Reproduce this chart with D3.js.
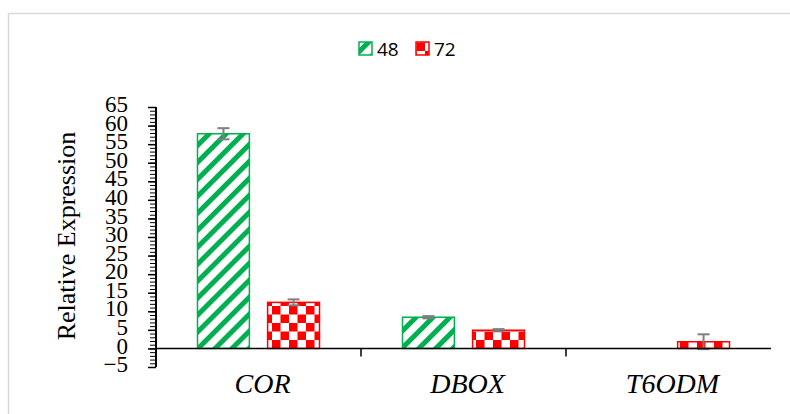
<!DOCTYPE html>
<html>
<head>
<meta charset="utf-8">
<script src="https://cdn.jsdelivr.net/npm/d3@7"></script>
<style>
  body { margin: 0; background: #fff; }
  svg { display: block; }
</style>
</head>
<body>
<div id="chart"></div>
<script>
// data
const categories = ['COR', 'DBOX', 'T6ODM'];
const seriesNames = ['48', '72'];
const values48 = [57.8, 8.4, 0];
const values72 = [12.4, 4.9, 1.8];
const errors48 = [1.5, 0.3, 0];
const errors72 = [0.8, 0.3, 2.0];
const yTicks = [-5, 0, 5, 10, 15, 20, 25, 30, 35, 40, 45, 50, 55, 60, 65];

const width = 790, height = 414;
const green = '#00B050', red = '#FF0000';

const svg = d3.select('#chart').append('svg')
    .attr('width', width).attr('height', height);

// patterns
const defs = svg.append('defs');
const stripes = defs.append('pattern')
    .attr('id', 'stripes').attr('patternUnits', 'userSpaceOnUse')
    .attr('width', 12).attr('height', 12)
    .attr('patternTransform', 'rotate(-45)');
stripes.append('rect').attr('width', 12).attr('height', 12).attr('fill', '#fff');
stripes.append('rect').attr('width', 12).attr('height', 5).attr('fill', green);

const checks = defs.append('pattern')
    .attr('id', 'checks').attr('patternUnits', 'userSpaceOnUse')
    .attr('width', 17).attr('height', 17).attr('x', 0).attr('y', 0);
checks.append('rect').attr('width', 17).attr('height', 17).attr('fill', '#fff');
checks.append('rect').attr('width', 8.5).attr('height', 8.5).attr('fill', red);
checks.append('rect').attr('x', 8.5).attr('y', 8.5).attr('width', 8.5).attr('height', 8.5).attr('fill', red);

// frame
svg.append('path')
    .attr('d', `M8.5,${height + 2}V13.5H${width + 2}`)
    .attr('fill', 'none').attr('stroke', '#d9d9d9').attr('stroke-width', 1.5);

// scales
const x0 = d3.scaleBand().domain(categories).range([156, 771]);
const x1 = d3.scaleBand().domain(seriesNames).range([41.5, 163.5]).paddingInner(0.26);
const y = d3.scaleLinear().domain([-5, 65]).range([367, 107]);

const series = [
  { name: '48', values: values48, errors: errors48, fill: 'url(#stripes)', color: green },
  { name: '72', values: values72, errors: errors72, fill: 'url(#checks)', color: red }
];

// bars
const gBars = svg.append('g');
series.forEach(s => {
  const g = gBars.append('g');
  categories.forEach((c, i) => {
    const v = s.values[i];
    if (v <= 0) return;
    const bx = x0(c) + x1(s.name);
    g.append('rect')
      .attr('x', bx).attr('y', y(v))
      .attr('width', x1.bandwidth()).attr('height', y(0) - y(v))
      .attr('fill', s.fill)
      .attr('stroke', s.color).attr('stroke-width', 1.5);
  });
});

// error bars
series.forEach(s => {
  categories.forEach((c, i) => {
    const v = s.values[i], e = s.errors[i];
    if (v <= 0) return;
    const cx = x0(c) + x1(s.name) + x1.bandwidth() / 2;
    const g = svg.append('g').attr('stroke', '#7f7f7f').attr('stroke-width', 2);
    g.append('line').attr('x1', cx).attr('x2', cx).attr('y1', y(v + e)).attr('y2', y(v - e));
    g.append('line').attr('x1', cx - 6).attr('x2', cx + 6).attr('y1', y(v + e)).attr('y2', y(v + e));
    g.append('line').attr('x1', cx - 6).attr('x2', cx + 6).attr('y1', y(v - e)).attr('y2', y(v - e));
  });
});

// x axis at zero
const xAxisG = svg.append('g').attr('transform', `translate(0,${y(0)})`);
xAxisG.append('line').attr('x1', 156).attr('x2', 771)
    .attr('stroke', '#000').attr('stroke-width', 1.5);
categories.slice(1).forEach(c => {
  xAxisG.append('line').attr('x1', x0(c)).attr('x2', x0(c))
      .attr('y1', 0).attr('y2', 8).attr('stroke', '#000').attr('stroke-width', 1.5);
});
svg.append('g').selectAll('text')
  .data(categories).join('text')
    .attr('x', d => x0(d) + x0.bandwidth() / 2 + 4)
    .attr('y', 393)
    .attr('text-anchor', 'middle')
    .attr('font-family', '"Liberation Serif", "DejaVu Serif", serif')
    .attr('font-style', 'italic')
    .attr('font-size', 28)
    .text(d => d);

// y axis: minor ticks
const yAxisG = svg.append('g').attr('transform', 'translate(156,0)');
yAxisG.call(d3.axisLeft(y).ticks(70).tickSize(6).tickFormat(''))
  .call(g => g.select('.domain').remove())
  .selectAll('line').attr('stroke', '#000').attr('stroke-width', 1);
// major ticks with labels
const yMajor = svg.append('g').attr('transform', 'translate(156,0)');
yMajor.call(d3.axisLeft(y).tickValues(yTicks).tickSize(8).tickPadding(20)
    .tickFormat(d => d < 0 ? '\u2212' + Math.abs(d) : d))
  .call(g => g.select('.domain').attr('stroke', '#000').attr('stroke-width', 2))
  .call(g => g.selectAll('line').attr('stroke', '#000').attr('stroke-width', 1.5))
  .call(g => g.selectAll('text')
      .attr('font-family', '"Liberation Serif", "DejaVu Serif", serif')
      .attr('font-size', 23).attr('fill', '#000').attr('dy', '0.2em'));
yMajor.select('.domain').attr('d', `M0,${y(-5)}V${y(65)}`);

// y title
svg.append('text')
    .attr('transform', `translate(75,${236}) rotate(-90)`)
    .attr('text-anchor', 'middle')
    .attr('font-family', '"Liberation Serif", "DejaVu Serif", serif')
    .attr('font-size', 26)
    .text('Relative Expression');

// legend
const legend = svg.append('g');
const legendItems = [
  { name: '48', fill: 'url(#stripes)', color: green, x: 359 },
  { name: '72', fill: 'url(#checks)', color: red, x: 416 }
];
legendItems.forEach(l => {
  legend.append('rect').attr('x', l.x).attr('y', 42).attr('width', 13).attr('height', 13)
    .attr('fill', l.fill).attr('stroke', l.color).attr('stroke-width', 1.5);
  legend.append('text').attr('x', l.x + 18).attr('y', 56)
    .attr('font-family', '"Open Sans", "Liberation Sans", sans-serif')
    .attr('font-size', 19)
    .text(l.name);
});
</script>
</body>
</html>
